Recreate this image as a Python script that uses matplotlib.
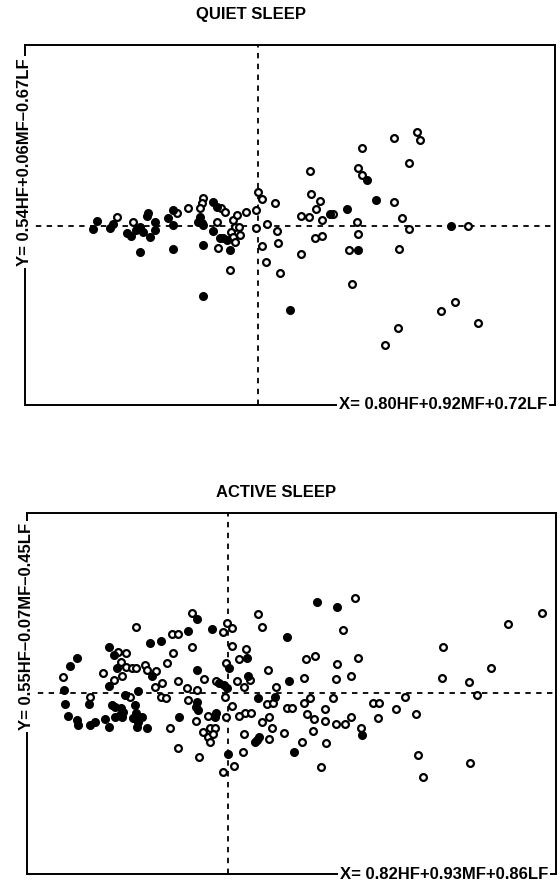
"""Quiet vs active sleep: discriminant scores, filled vs open subjects."""
from __future__ import annotations

import matplotlib

matplotlib.use("Agg")
import matplotlib.pyplot as plt

FONT = ["Liberation Sans", "DejaVu Sans"]
DASH = (0, (3, 3))

# QUIET SLEEP (arbitrary score units, origin at the dashed cross-hair)
QUIET_FILLED_X = [-165, -161, -148, -145, -131, -127, -122, -118, -118, -115,
                  -111, -110, -108, -103, -103, -90, -85, -85, -85, -60, -58,
                  -55, -55, -55, -45, -41, -45, -38, -35, -31, -28, 32, 72,
                  89, 100, 109, 118, 193]
QUIET_FILLED_Y = [-3, 5, -2, 2, -7, -10, -4, -1, -26, -6, 10, 13, -11, 4, -4,
                  8, 16, 1, -23, 4, 9, 1, -19, -70, 24, 19, -5, -12, -12, -14,
                  -24, -84, 12, 17, -24, 46, 26, 0]
QUIET_OPEN_X = [-141, -125, -81, -70, -55, -56, -58, -56, -41, -37, -33, -40,
                -28, -25, -21, -23, -19, -27, -25, -18, -23, -12, -2, 0, 4,
                -2, 9, 17, 19, 20, 4, 8, 22, 43, 43, 51, 52, 53, 58, 62, 64,
                57, 64, 75, 91, 99, 100, 94, 104, 100, 104, 136, 159, 162,
                151, 136, 144, 151, 141, 210, 127, 140, 183, 197, 220]
QUIET_OPEN_Y = [9, 4, 13, 18, 28, 23, 18, 3, 4, 18, 14, -22, -44, 6, 11, -1,
                -1, -6, -11, -9, -16, 14, 16, 34, 27, -2, 2, 23, -5, -17, -20,
                -36, -47, -28, 10, 9, 55, 32, 17, 25, 6, -12, -10, 12, -24, 4,
                -8, -58, 78, 58, 51, 88, 94, 86, 63, 24, 8, -3, -23, 0, -119,
                -102, -85, -76, -97]

# ACTIVE SLEEP
ACTIVE_FILLED_X = [-164, -158, -151, -163, -160, -151, -150, -138, -133, -139,
                   -119, -114, -111, -119, -103, -90, -116, -113, -107, -105,
                   -108, -113, -106, -123, -119, -93, -92, -95, -90, -86, -91,
                   -81, -78, -76, -67, -40, -31, -49, -31, -31, -32, -30, -16,
                   59, 89, 109, 19, 1, -9, -4, -1, 20, 30, 47, 61, -12, -13,
                   31, 29, 27, 66, 0, 134]
ACTIVE_FILLED_Y = [3, 27, 35, -11, -23, -27, -32, -32, -29, -11, 46, 38, 25,
                   7, -2, 2, -12, -14, -15, -19, -22, -24, -24, -26, -34, -12,
                   -20, -25, -29, -24, -34, -35, 50, 17, 52, 62, 74, -24, 23,
                   -9, -14, -17, 64, 56, 91, 86, 35, 25, 10, 8, 5, 17, -5, -4,
                   12, -20, -24, -44, -47, -49, -59, -61, -42]
ACTIVE_OPEN_X = [-165, -138, -125, -92, -110, -102, -107, -102, -96, -92, -114,
                 -106, -98, -83, -81, -72, -73, -66, -61, -55, -56, -50, -36,
                 -36, -67, -62, -58, -50, -50, -41, -31, -40, -32, -5, -1, 4,
                 30, 34, 4, 18, 11, -2, -24, -12, 9, 22, 16, 40, -3, 4, 39,
                 45, 48, 76, 78, 87, 109, 108, 59, 64, 76, 82, 79, 86, 97, 97,
                 105, 108, 17, 23, 11, -20, -2, 41, 34, 44, -18, -13, -25, -20,
                 -15, -18, 16, 41, 56, 74, 85, 98, -29, 15, 6, -5, 93, 127,
                 115, 123, 130, 117, 123, 133, 145, 151, 150, 168, 177, 188,
                 190, 195, 215, 214, 241, 249, 263, 280, 314, 242]
ACTIVE_OPEN_Y = [16, -4, 20, 66, 41, 40, 31, 26, 25, 25, 13, 17, -4, 28, 23,
                 22, 6, 10, 30, 40, 59, 59, 46, 80, -4, -5, -35, -55, 12, 5, 3,
                 -7, -28, 61, 70, 65, 79, 66, 47, 44, 34, 30, 14, 12, 12, 13,
                 6, 23, -4, -13, -11, -10, 6, 15, 34, 37, 29, 14, -15, -15,
                 -10, -5, -21, -26, -16, -28, -5, -31, -20, -20, -23, -23, -24,
                 -24, -29, -35, -35, -35, -39, -44, -41, -49, -41, -46, -40,
                 -49, -38, -50, -64, -59, -73, -79, -74, 95, 63, 17, 35, -31,
                 -24, -35, -10, -10, -25, -16, -4, -21, -62, -84, 46, 15, 11,
                 -2, 25, 69, 80, -70]

PANELS = [
    dict(title="QUIET SLEEP",
         xlabel="X= 0.80HF+0.92MF+0.72LF",
         ylabel="Y= 0.54HF+0.06MF\u20130.67LF",
         filled=(QUIET_FILLED_X, QUIET_FILLED_Y),
         open_=(QUIET_OPEN_X, QUIET_OPEN_Y),
         xlim=(-233, 297), ylim=(-179, 181),
         rect=[0.0446, 0.5424, 0.9464, 0.4068],
         title_xy=(251, 15), ylab_y=0.675),
    dict(title="ACTIVE SLEEP",
         xlabel="X= 0.82HF+0.93MF+0.86LF",
         ylabel="Y= 0.55HF\u20130.07MF\u20130.45LF",
         filled=(ACTIVE_FILLED_X, ACTIVE_FILLED_Y),
         open_=(ACTIVE_OPEN_X, ACTIVE_OPEN_Y),
         xlim=(-201, 328), ylim=(-181, 180),
         rect=[0.0482, 0.0124, 0.9446, 0.4079],
         title_xy=(276, 493), ylab_y=0.686),
]

W, H = 560, 885


def _draw_panel(fig, p):
    ax = fig.add_axes(p["rect"])
    ax.axhline(0, color="black", lw=1.3, ls=DASH, zorder=1)
    ax.axvline(0, color="black", lw=1.3, ls=DASH, zorder=1)

    ox, oy = p["open_"]
    ax.scatter(ox, oy, s=24, facecolors="white", edgecolors="black",
               linewidths=1.6, zorder=3)
    fx, fy = p["filled"]
    ax.scatter(fx, fy, s=24, facecolors="black", edgecolors="black",
               linewidths=1.6, zorder=3)

    ax.set_xlim(*p["xlim"])
    ax.set_ylim(*p["ylim"])
    ax.set_xticks([])
    ax.set_yticks([])
    for side in ax.spines.values():
        side.set_linewidth(1.4)

    box = dict(facecolor="white", edgecolor="none", pad=1.5)
    ax.text(0.0, p["ylab_y"], p["ylabel"], transform=ax.transAxes,
            rotation=90, ha="center", va="center", fontsize=12,
            fontweight="bold", family=FONT, bbox=box, zorder=5, clip_on=False)
    ax.text(0.985, 0.0, p["xlabel"], transform=ax.transAxes,
            ha="right", va="center", fontsize=12, fontweight="bold",
            family=FONT, bbox=box, zorder=5, clip_on=False)

    tx, ty = p["title_xy"]
    fig.text(tx / W, 1 - ty / H, p["title"], ha="center", va="center",
             fontsize=12, fontweight="bold", family=FONT)


fig = plt.figure(figsize=(W / 100, H / 100), dpi=100)
for panel in PANELS:
    _draw_panel(fig, panel)
fig.savefig("out.png", dpi=100, facecolor="white")
